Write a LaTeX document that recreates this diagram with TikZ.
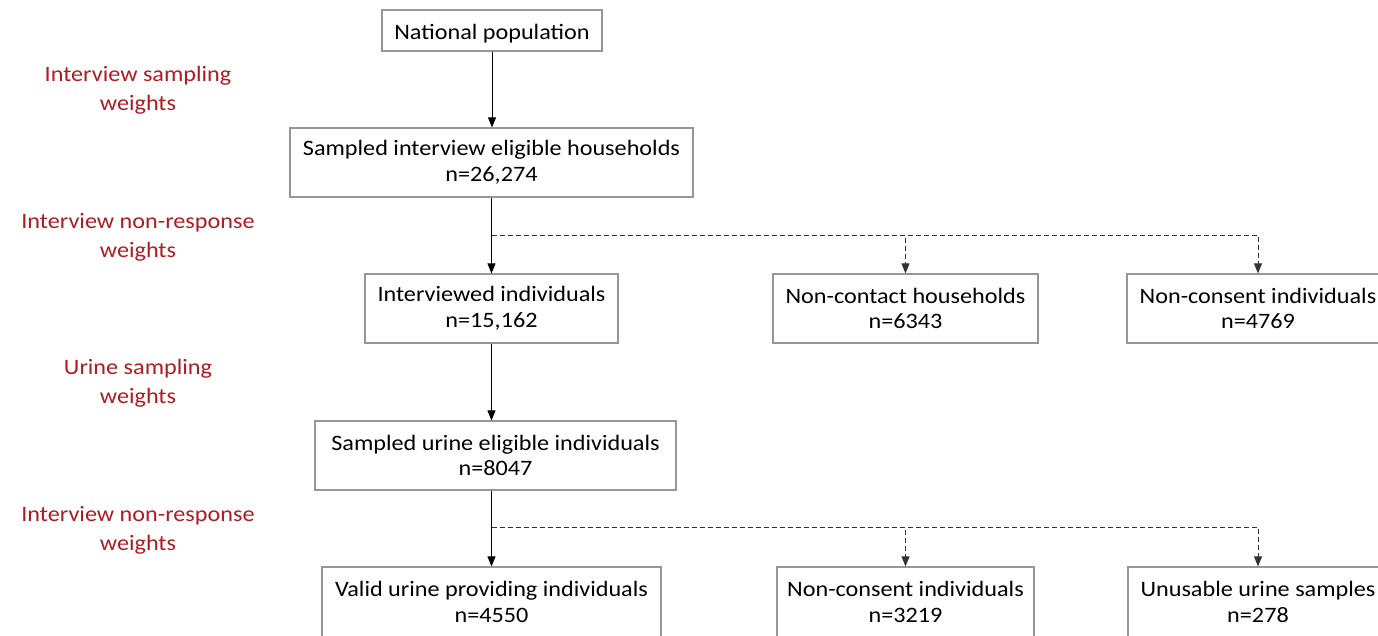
\documentclass[tikz,border=0pt]{standalone}
\usepackage{fontspec}
\setmainfont{Carlito}[FakeStretch=1.1]
\usetikzlibrary{arrows.meta}
\definecolor{lblred}{RGB}{176,28,34}
\definecolor{boxgray}{RGB}{150,150,150}
\tikzset{
  box/.style={draw=boxgray, line width=1.2pt, fill=white, rectangle, inner sep=0pt,
    align=center, font=\fontsize{22}{25.5}\selectfont, text=black,
    execute at begin node={\rule{0pt}{21pt}}},
  lbl/.style={align=center, text=lblred, font=\fontsize{22}{29}\selectfont, inner sep=0pt},
  arr/.style={draw=black, line width=0.9pt, -{Triangle[length=10pt,width=8pt]}},
  dsh/.style={draw=black!80, line width=0.8pt, dash pattern=on 5pt off 3pt},
  darr/.style={dsh, -{Triangle[length=10pt,width=8pt]}}
}
\begin{document}
\begin{tikzpicture}[x=1pt,y=-1pt]
\clip (0,0) rectangle (1378,635);
\fill[white] (0,0) rectangle (1378,635);
% left labels
\node[lbl] (l1) at (138,90) {Interview sampling\\weights};
\node[lbl] (l2) at (138,237) {Interview non-response\\weights};
\node[lbl] (l3) at (138,383) {Urine sampling\\weights};
\node[lbl] (l4) at (138,530) {Interview non-response\\weights};
% boxes
\node[box, minimum width=220pt, minimum height=41pt] (nat) at (492,30.5) {National population};
\node[box, minimum width=403pt, minimum height=69pt] (sih) at (491.5,162.5) {Sampled interview eligible households\\n=26,274};
\node[box, minimum width=253pt, minimum height=69pt] (ii) at (491.5,308.5) {Interviewed individuals\\n=15,162};
\node[box, minimum width=265pt, minimum height=69pt] (nch) at (905.5,308.5) {Non-contact households\\n=6343};
\node[box, minimum width=262pt, minimum height=69pt] (nci) at (1258,308.5) {Non-consent individuals\\n=4769};
\node[box, minimum width=361pt, minimum height=69pt] (sue) at (495.5,455.5) {Sampled urine eligible individuals\\n=8047};
\node[box, minimum width=339pt, minimum height=70pt] (vup) at (491.5,602) {Valid urine providing individuals\\n=4550};
\node[box, minimum width=257pt, minimum height=70pt] (nc2) at (905.5,602) {Non-consent individuals\\n=3219};
\node[box, minimum width=260pt, minimum height=70pt] (uus) at (1258,602) {Unusable urine samples\\n=278};
% connectors
\draw[arr] (nat.south) -- (nat.south |- sih.north);
\coordinate (j1) at (491.5,235.5);
\draw[darr] (j1) -| (nch.north);
\draw[darr] (j1) -| (nci.north);
\draw[arr] (sih.south) -- (ii.north);
\draw[arr] (ii.south) -- (ii.south |- sue.north);
\coordinate (j2) at (491.5,527.5);
\draw[darr] (j2) -| (nc2.north);
\draw[darr] (j2) -| (uus.north);
\draw[arr] (sue.south -| j2) -- (vup.north);
\end{tikzpicture}
\end{document}
